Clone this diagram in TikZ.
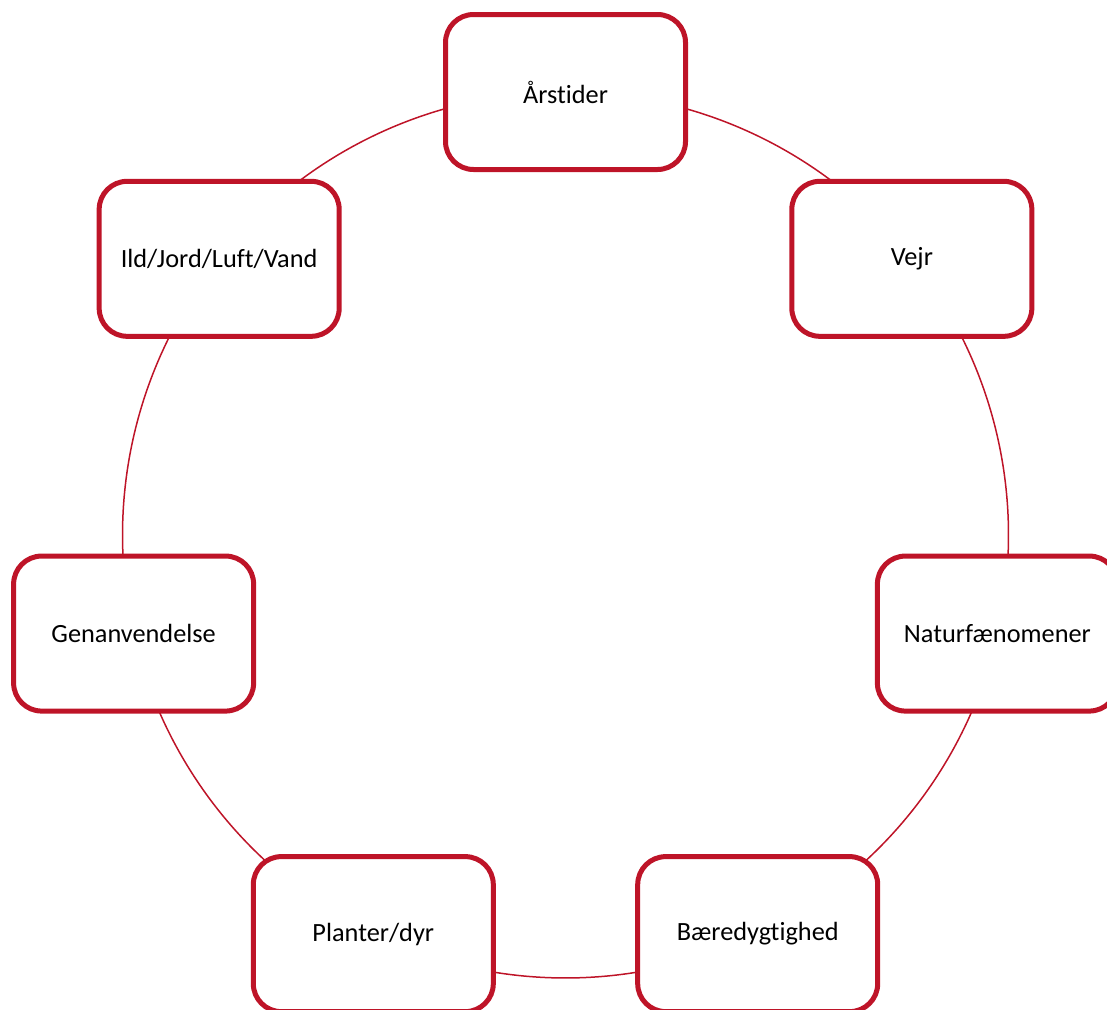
\documentclass[tikz,border=0pt]{standalone}
\usepackage{fontspec}
\setmainfont[Ligatures=NoCommon]{Carlito}
\usetikzlibrary{backgrounds}
\definecolor{boxred}{RGB}{190,20,40}
\tikzset{
  topic/.style={draw=boxred, line width=5pt, fill=white, rounded corners=28pt,
    minimum width=240pt, minimum height=155pt, inner sep=0pt,
    font=\fontsize{26.3}{30}\selectfont, text=black},
  ring/.style={draw=boxred, line width=1.5pt}
}
\begin{document}
\begin{tikzpicture}[x=1pt,y=1pt]
\useasboundingbox (0,0) rectangle (1107,-1009);
\clip (0,0) rectangle (1107,-1009);
\begin{scope}[shift={(565.5,-535)}]
  \node[topic] (n1) at (90:443) {Årstider};
  \node[topic] (n2) at (38.571:443) {Vejr};
  \node[topic] (n3) at (-12.857:443) {Naturfænomener};
  \node[topic] (n4) at (-64.286:443) {Bæredygtighed};
  \node[topic] (n5) at (-115.714:443) {Planter/dyr};
  \node[topic] (n6) at (-167.143:443) {Genanvendelse};
  \node[topic] (n7) at (141.429:443) {Ild/Jord/Luft/Vand};
  \begin{pgfonlayer}{background}
    \draw[ring] (n1.center) arc[start angle=90, end angle=38.571, radius=443];
    \draw[ring] (n2.center) arc[start angle=38.571, end angle=-12.857, radius=443];
    \draw[ring] (n3.center) arc[start angle=-12.857, end angle=-64.286, radius=443];
    \draw[ring] (n4.center) arc[start angle=-64.286, end angle=-115.714, radius=443];
    \draw[ring] (n5.center) arc[start angle=-115.714, end angle=-167.143, radius=443];
    \draw[ring] (n6.center) arc[start angle=-167.143, end angle=-218.571, radius=443];
    \draw[ring] (n7.center) arc[start angle=141.429, end angle=90, radius=443];
  \end{pgfonlayer}
\end{scope}
\end{tikzpicture}
\end{document}
